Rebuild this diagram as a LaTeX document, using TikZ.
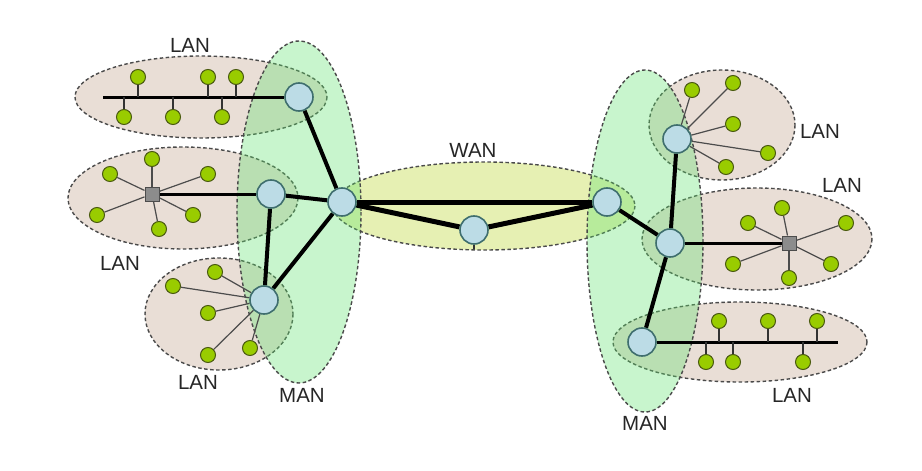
\documentclass[tikz,border=0pt]{standalone}
\usepackage{fontspec}
\setmainfont{Liberation Sans}
\definecolor{lanc}{HTML}{E9DED6}
\definecolor{manc}{RGB}{97,226,111}
\definecolor{wanc}{HTML}{E6F0B3}
\definecolor{pcc}{HTML}{99CC00}
\definecolor{pce}{HTML}{4A5A10}
\definecolor{rtc}{HTML}{BCDCE6}
\definecolor{rte}{HTML}{3F6E6E}
\definecolor{bord}{HTML}{4A4A4A}
\pgfdeclarelayer{regions}
\pgfdeclarelayer{wires}
\pgfsetlayers{regions,wires,main}
\tikzset{
  pc/.style={circle, fill=pcc, draw=pce, line width=1pt, inner sep=0pt, minimum size=15pt},
  router/.style={circle, fill=rtc, draw=rte, line width=1.6pt, inner sep=0pt, minimum size=28pt},
  sw/.style={rectangle, fill=gray!90, draw=black!70, line width=1pt, inner sep=0pt, minimum size=14pt},
  region/.style={draw=bord, dash pattern=on 3.5pt off 2.5pt, line width=1.4pt},
  lanreg/.style={region, fill=lanc},
  wanreg/.style={region, fill=wanc},
  manreg/.style={region, fill=manc, fill opacity=0.35},
  link/.style={line width=4pt, draw=black},
  wlink/.style={line width=5pt, draw=black},
  bus/.style={line width=3pt, draw=black},
  thinl/.style={line width=1.2pt, draw=black!70},
  stub/.style={line width=1.5pt, draw=black!80},
  lbl/.style={font=\fontsize{20.5}{24}\selectfont, text=black!85, inner sep=0pt}
}
\begin{document}
\begin{tikzpicture}[x=1pt,y=-1pt]
\useasboundingbox (0,0) rectangle (922,471);
% regions
\begin{pgfonlayer}{regions}
\path[lanreg] (201,97) ellipse [x radius=126, y radius=41];
\path[lanreg] (183,198) ellipse [x radius=115, y radius=51];
\path[lanreg] (219,314) ellipse [x radius=74, y radius=56];
\path[lanreg] (722,125) ellipse [x radius=73, y radius=55];
\path[lanreg] (757,239) ellipse [x radius=115, y radius=51];
\path[lanreg] (740,342) ellipse [x radius=127, y radius=40];
\path[wanreg] (484,206) ellipse [x radius=151, y radius=44];
\path[manreg] (299,212) ellipse [x radius=62, y radius=171];
\path[manreg] (645,241) ellipse [x radius=58, y radius=171];
\end{pgfonlayer}
% labels
\node[lbl] (tLAN1) at (190,45) {LAN};
\node[lbl] (tLAN2) at (120,263) {LAN};
\node[lbl] (tLAN3) at (198,382) {LAN};
\node[lbl] (tMAN1) at (302,395) {MAN};
\node[lbl] (tWAN) at (473,150) {WAN};
\node[lbl] (tLAN4) at (820,131) {LAN};
\node[lbl] (tLAN5) at (842,185) {LAN};
\node[lbl] (tLAN6) at (792,395) {LAN};
\node[lbl] (tMAN2) at (645,423) {MAN};
% free ends
\coordinate (bA) at (103,97);
\coordinate (bB) at (838,342);
\coordinate (wst) at (474,249);
% routers and switches
\node[router] (r1) at (299,97) {};
\node[router] (r2) at (271,194) {};
\node[router] (r3) at (264,300) {};
\node[router] (h1) at (342,202) {};
\node[router] (w2) at (474,230) {};
\node[router] (h2) at (607,202) {};
\node[router] (r4) at (677,139) {};
\node[router] (r5) at (670,243) {};
\node[router] (r6) at (642,342) {};
\node[sw] (s1) at (152,194) {};
\node[sw] (s2) at (789,243) {};
% hosts
\node[pc] (a1) at (138,77) {};
\node[pc] (a2) at (208,77) {};
\node[pc] (a3) at (236,77) {};
\node[pc] (a4) at (124,117) {};
\node[pc] (a5) at (173,117) {};
\node[pc] (a6) at (222,117) {};
\node[pc] (b1) at (152,159) {};
\node[pc] (b2) at (110,174) {};
\node[pc] (b3) at (208,174) {};
\node[pc] (b4) at (97,215) {};
\node[pc] (b5) at (193,215) {};
\node[pc] (b6) at (159,229) {};
\node[pc] (c1) at (215,272) {};
\node[pc] (c2) at (173,286) {};
\node[pc] (c3) at (208,313) {};
\node[pc] (c4) at (208,355) {};
\node[pc] (c5) at (250,348) {};
\node[pc] (d1) at (692,90) {};
\node[pc] (d2) at (733,83) {};
\node[pc] (d3) at (733,124) {};
\node[pc] (d4) at (768,153) {};
\node[pc] (d5) at (726,167) {};
\node[pc] (e1) at (782,208) {};
\node[pc] (e2) at (748,223) {};
\node[pc] (e3) at (846,223) {};
\node[pc] (e4) at (733,264) {};
\node[pc] (e5) at (831,264) {};
\node[pc] (e6) at (789,278) {};
\node[pc] (f1) at (719,321) {};
\node[pc] (f2) at (768,321) {};
\node[pc] (f3) at (817,321) {};
\node[pc] (f4) at (706,362) {};
\node[pc] (f5) at (733,362) {};
\node[pc] (f6) at (803,362) {};
% connectors
\begin{pgfonlayer}{wires}
\draw[bus] (bA) -- (r1);
\foreach \n in {a1,a2,a3,a4,a5,a6} \draw[stub] (\n) -- (\n |- bA);
\draw[bus] (s1) -- (r2);
\foreach \n in {b1,b2,b3,b4,b5,b6} \draw[thinl] (\n) -- (s1);
\foreach \n in {c1,c2,c3,c4,c5} \draw[thinl] (\n) -- (r3);
\draw[link] (r1) -- (h1);
\draw[link] (r2) -- (h1);
\draw[link] (r2) -- (r3);
\draw[link] (r3) -- (h1);
\draw[wlink] (h1) -- (h2);
\draw[wlink] (h1) -- (w2);
\draw[wlink] (w2) -- (h2);
\draw[stub] (w2) -- (wst);
\draw[link] (h2) -- (r5);
\draw[link] (r5) -- (r4);
\draw[link] (r5) -- (r6);
\foreach \n in {d1,d2,d3,d4,d5} \draw[thinl] (\n) -- (r4);
\draw[bus] (r5) -- (s2);
\foreach \n in {e1,e2,e3,e4,e5,e6} \draw[thinl] (\n) -- (s2);
\draw[bus] (r6) -- (bB);
\foreach \n in {f1,f2,f3,f4,f5,f6} \draw[stub] (\n) -- (\n |- bB);
\end{pgfonlayer}
\end{tikzpicture}
\end{document}
